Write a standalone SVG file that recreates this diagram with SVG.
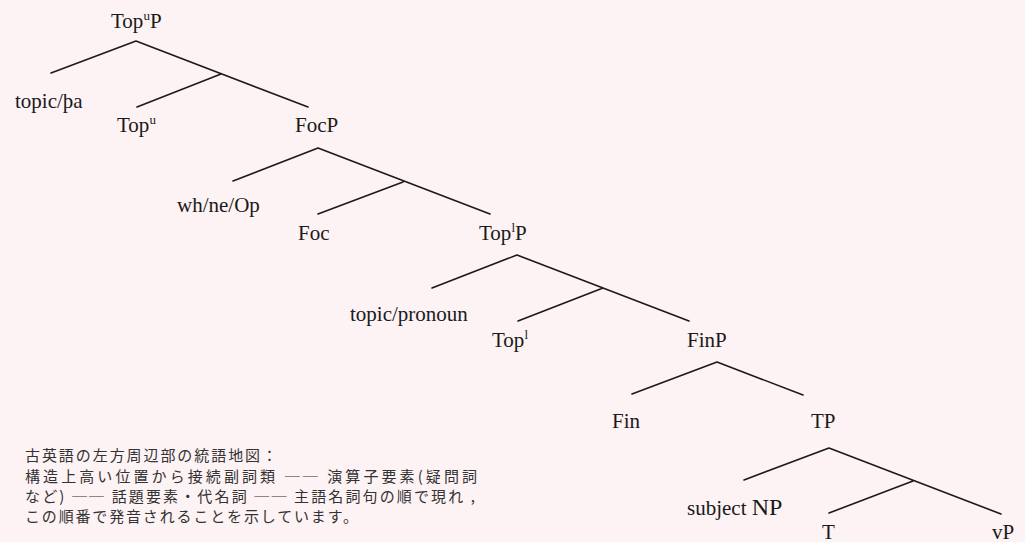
<svg xmlns="http://www.w3.org/2000/svg" width="1025" height="542" viewBox="0 0 1025 542">
<style>
.n{font-family:"Liberation Serif","Times New Roman",serif;font-size:21px;fill:#1a1a1a}
.s{font-size:13px}
.e{stroke:#1a1a1a;stroke-width:1.6;fill:none;stroke-linecap:round}
.j{font-family:"Noto Sans CJK JP","Noto Sans CJK SC",sans-serif;font-size:15px;fill:#333}
</style>
<rect width="1025" height="542" fill="#fdf2f4"/>
<g id="connectors">
<path class="e" d="M136,41 L51,73 M136,41 L308,107 M221,74 L137,107"/>
<path class="e" d="M318,148 L233,181 M318,148 L490,214 M403,182 L318,214"/>
<path class="e" d="M517,255 L432,288 M517,255 L689,321 M603,288 L518,321"/>
<path class="e" d="M717,362 L632,394 M717,362 L803,395"/>
<path class="e" d="M829,448 L744,480 M829,448 L1001,514 M913,481 L829,513"/>
</g>
<g id="n-topuP"><text class="n" x="111" y="28">Top<tspan class="s" dy="-8">u</tspan><tspan dy="8">P</tspan></text></g>
<g id="n-topicpa"><text class="n" x="15" y="108">topic/þa</text></g>
<g id="n-topu"><text class="n" x="117" y="132">Top<tspan class="s" dy="-8">u</tspan></text></g>
<g id="n-focP"><text class="n" x="295" y="132">FocP</text></g>
<g id="n-whneop"><text class="n" x="177" y="212">wh/ne/Op</text></g>
<g id="n-foc"><text class="n" x="298" y="240">Foc</text></g>
<g id="n-toplP"><text class="n" x="479" y="240">Top<tspan class="s" dy="-8">l</tspan><tspan dy="8">P</tspan></text></g>
<g id="n-topicpronoun"><text class="n" x="350" y="321">topic/pronoun</text></g>
<g id="n-topl"><text class="n" x="492" y="347">Top<tspan class="s" dy="-8">l</tspan></text></g>
<g id="n-finP"><text class="n" x="687" y="347">FinP</text></g>
<g id="n-fin"><text class="n" x="612" y="428">Fin</text></g>
<g id="n-TP"><text class="n" x="811" y="428">TP</text></g>
<g id="n-subj"><text class="n" x="687" y="515">subject <tspan font-size="24">NP</tspan></text></g>
<g id="n-T"><text class="n" x="822" y="539">T</text></g>
<g id="n-vP"><text class="n" x="992" y="539">vP</text></g>
<g id="caption">
<text class="j" x="25" y="461" textLength="252" lengthAdjust="spacing">古英語の左方周辺部の統語地図：</text>
<text class="j" x="25" y="482" textLength="452" lengthAdjust="spacing">構造上高い位置から接続副詞類 ── 演算子要素(疑問詞</text>
<text class="j" x="25" y="502" textLength="450" lengthAdjust="spacing">など) ── 話題要素・代名詞 ── 主語名詞句の順で現れ ,</text>
<text class="j" x="25" y="522" textLength="333" lengthAdjust="spacing">この順番で発音されることを示しています。</text>
</g>
</svg>
